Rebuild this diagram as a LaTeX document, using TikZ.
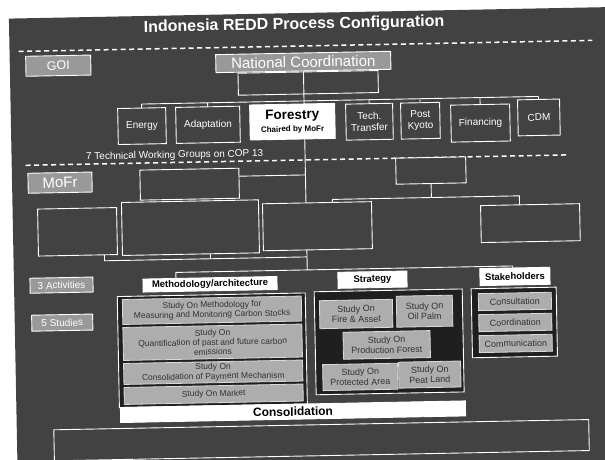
\documentclass[tikz,border=0pt]{standalone}
\usepackage{fontspec}
\setmainfont{Liberation Sans}
\usetikzlibrary{calc}
\pgfdeclarelayer{panel}
\pgfdeclarelayer{wires}
\pgfsetlayers{panel,wires,main}

\definecolor{slidebg}{gray}{0.26}
\definecolor{labelgray}{gray}{0.60}
\definecolor{studygray}{gray}{0.68}
\definecolor{framefill}{gray}{0.12}

% box given by its corners (x1,y1) (x2,y2), y counted downwards
\newcommand\boxnode[7]{\node[#2,minimum width={(#5-#3)*1pt},minimum height={(#6-#4)*1pt}] (#1) at ({(#3+#5)/2},{(#4+#6)/2}) {#7};}
\newcommand\fs[2]{\fontsize{#1}{#2}\selectfont}

\begin{document}
\begin{tikzpicture}[x=1pt,y=-1pt,
  wire/.style={draw=white,line width=0.9pt},
  dashrule/.style={draw=white,line width=1.5pt,dash pattern=on 5pt off 3.5pt},
  labelbox/.style={draw=white,line width=0.9pt,fill=labelgray,text=white,inner sep=1pt,align=center},
  darkbox/.style={draw=white,line width=0.9pt,inner sep=1pt},
  filledbox/.style={darkbox,fill=slidebg},
  topicbox/.style={draw=white,line width=0.9pt,fill=slidebg,text=white,align=center,inner sep=1pt,font=\fs{10}{11.5}},
  tagbox/.style={draw=white,line width=0.9pt,fill=white,text=black,inner sep=1pt,font=\bfseries\fs{9.5}{11}},
  framebox/.style={draw=white,line width=0.9pt,fill=framefill},
  studybox/.style={draw=white!85!black,line width=0.8pt,fill=studygray,text=black!80,align=center,inner sep=1pt,font=\fs{8.5}{9.6}},
  stratstudy/.style={studybox,font=\fs{9}{10.3}},
  stakeitem/.style={studybox,font=\fs{9}{10.3}}
]
\useasboundingbox (0,0) rectangle (605,459);
\begin{pgfonlayer}{panel}
  \fill[white] (0,0) rectangle (605,459);
\end{pgfonlayer}

\begin{scope}[rotate around={1.1:(302.5,229.5)},transform shape]

\begin{pgfonlayer}{panel}
  \fill[slidebg] (13,13) rectangle (615,480);
\end{pgfonlayer}

% title and rules
\node[font=\bfseries\fs{16}{18},text=white] (title) at (298,25) {Indonesia REDD Process Configuration};
\draw[dashrule] (22,46) -- (596,46);

% government level
\boxnode{goi}{labelbox,font=\fs{12.5}{14}}{29}{51}{94}{71}{GOI}
\boxnode{natc}{labelbox,font=\fs{15}{17}}{219}{53}{394}{71}{National Coordination}
\boxnode{chair}{darkbox}{241}{72}{381}{94}{}
\boxnode{energy}{topicbox}{120}{105}{168}{141}{Energy}
\boxnode{adapt}{topicbox}{178}{105}{242}{141}{Adaptation}
\boxnode{forestry}{topicbox,fill=white,text=black}{252}{104}{337}{139}{{\bfseries\fs{13.5}{15}Forestry}\\[1pt]{\bfseries\fs{8}{9}Chaired by MoFr}}
\boxnode{tech}{topicbox}{348}{105}{395}{141}{Tech.\\Transfer}
\boxnode{kyoto}{topicbox}{403}{105}{442}{141}{Post\\Kyoto}
\boxnode{fin}{topicbox}{453}{108}{512}{145}{Financing}
\boxnode{cdm}{topicbox}{520}{104}{562}{140}{CDM}
\node[text=white,font=\fs{10}{12},anchor=west] (twg) at (84,153) {7 Technical Working Groups on COP 13};
\draw[dashrule] (27,160) -- (568,160);

% ministry level
\boxnode{mofr}{labelbox,font=\fs{15}{17}}{29}{168}{93}{188}{MoFr}
\boxnode{unitA}{filledbox}{141}{167}{240}{197}{}
\boxnode{unitB}{filledbox}{397}{160}{467}{186}{}
\boxnode{groupA}{filledbox}{38}{204}{117}{251}{}
\boxnode{groupB}{filledbox}{122}{199}{259}{252}{}
\boxnode{groupC}{filledbox}{263}{203}{372}{250}{}
\boxnode{groupD}{filledbox}{481}{209}{580}{246}{}

% activities and studies
\boxnode{acts}{labelbox,font=\fs{10}{12}}{29}{273}{92}{288}{3 Activities}
\boxnode{studies}{labelbox,font=\fs{10}{12}}{30}{310}{91}{326}{5 Studies}
\boxnode{methtag}{tagbox}{142}{276}{276}{289}{Methodology/architecture}
\boxnode{stratag}{tagbox}{337}{273}{406}{289}{Strategy}
\boxnode{staketag}{tagbox}{479}{272}{549}{289}{Stakeholders}

\boxnode{methframe}{framebox}{116}{293}{304}{404}{}
\boxnode{s1}{studybox}{121}{296}{300}{321}{Study On Methodology for\\Measuring and Monitoring Carbon Stocks}
\boxnode{s2}{studybox}{121}{324}{300}{357}{Study On\\Quantification of past and future carbon\\emissions}
\boxnode{s3}{studybox}{121}{360}{300}{381}{Study On\\Consolidation of Payment Mechanism}
\boxnode{s4}{studybox}{121}{384}{300}{401}{Study On Market}

\boxnode{straframe}{framebox}{313}{292}{461}{395}{}
\boxnode{fire}{stratstudy}{318}{301}{391}{329}{Study On\\Fire \& Asset}
\boxnode{palm}{stratstudy}{395}{298}{451}{329}{Study On\\Oil Palm}
\boxnode{prod}{stratstudy}{341}{333}{428}{360}{Study On\\Production Forest}
\boxnode{prot}{stratstudy}{320}{365}{395}{391}{Study On\\Protected Area}
\boxnode{peat}{stratstudy}{396}{364}{458}{390}{Study On\\Peat Land}

\boxnode{stakeframe}{framebox}{470}{292}{555}{361}{}
\boxnode{consult}{stakeitem}{477}{297}{550}{314}{Consultation}
\boxnode{coord}{stakeitem}{477}{318}{550}{335}{Coordination}
\boxnode{comm}{stakeitem}{477}{339}{550}{356}{Communication}

\boxnode{consol}{tagbox,font=\bfseries\fs{12}{14}}{117}{404}{462}{419}{Consolidation}
\boxnode{bottom}{filledbox}{50}{425}{585}{456}{}

% connectors
\coordinate (trunk) at (306.5,101);
\coordinate (busTwo) at (306.5,270);
\coordinate (eJ) at (144,101);
\coordinate (aJ) at (210,101);
\coordinate (tJ) at (371.5,101);
\coordinate (kJ) at (422.5,101);
\coordinate (fJ) at (482.5,101);
\coordinate (cJ) at (541,101);
\coordinate (aOut) at (240,175);
\coordinate (aIn) at (306.5,175);
\coordinate (bDown) at (432,200);
\coordinate (bL) at (333,200);
\coordinate (bR) at (520,200);
\coordinate (cTop) at (333,203);
\coordinate (dTop) at (520,209);
\coordinate (g1top) at (104,251);
\coordinate (g1) at (104,257);
\coordinate (g2top) at (210,252);
\coordinate (g2) at (210,257);
\coordinate (gJ) at (306.5,257);
\coordinate (mJ) at (175,270);
\coordinate (mTop) at (175,276);
\coordinate (sJ) at (512,270);
\coordinate (sTop) at (512,272);

\begin{pgfonlayer}{wires}
  \draw[wire] (natc.south) -- (trunk) -- (busTwo);
  \draw[wire] (eJ) -- (cJ);
  \draw[wire] (eJ) -- (energy.north);
  \draw[wire] (aJ) -- (adapt.north);
  \draw[wire] (tJ) -- (tech.north);
  \draw[wire] (kJ) -- (kyoto.north);
  \draw[wire] (fJ) -- (fin.north);
  \draw[wire] (cJ) -- (cdm.north);
  \draw[wire] (aOut) -- (aIn);
  \draw[wire] (unitB.south) -- (bDown);
  \draw[wire] (cTop) -- (bL) -- (bR) -- (dTop);
  \draw[wire] (g1top) -- (g1) -- (gJ);
  \draw[wire] (g2top) -- (g2);
  \draw[wire] (mTop) -- (mJ) -- (sJ) -- (sTop);
\end{pgfonlayer}
\end{scope}
\end{tikzpicture}
\end{document}
